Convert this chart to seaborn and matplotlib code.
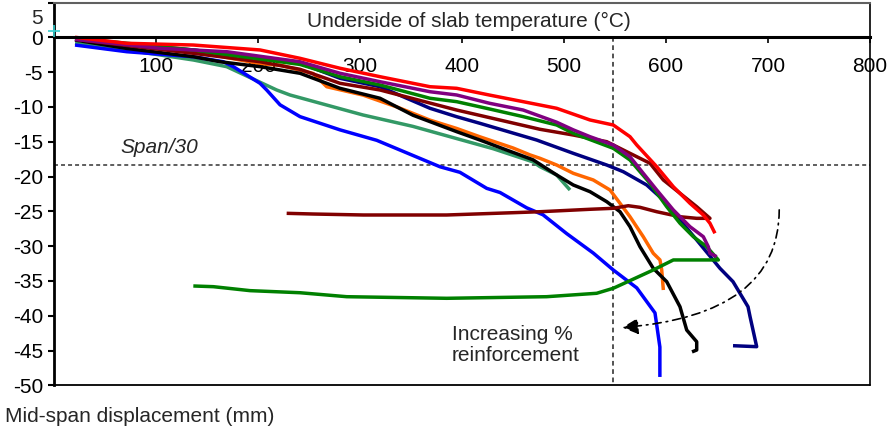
import matplotlib
matplotlib.use("Agg")
import matplotlib.pyplot as plt
from matplotlib.path import Path
from matplotlib.patches import FancyArrowPatch
import pandas as pd
import seaborn as sns

# Mid-span displacement (mm) against underside-of-slab temperature (°C)
red_t = [20.6, 71.3, 136.6, 202, 241.2, 280.4, 319.6, 368.6, 394.8, 427, 460, 492.8,
         525.5, 548.3, 564.7, 571.3, 590.9, 607.2, 623.5, 636.6, 643.1, 648]
red_d = [0.0, -0.86, -1.11, -1.82, -3.02, -4.45, -5.66, -7.10, -7.33, -8.3, -9.25, -10.2,
         -11.88, -12.6, -14.28, -15.47, -18.59, -21.47, -23.85, -25.53, -26.72, -28.16]

purple_t = [20.6, 103.9, 169.3, 241.2, 280.4, 319.6, 368.6, 394.8, 427, 460, 492.8, 509.1,
            525.5, 548.3, 564.7, 577.7, 590.9, 607.2, 623.5, 636.6, 641.5, 643.1, 649.7]
purple_d = [-0.29, -1.58, -2.07, -3.51, -5.17, -6.38, -7.82, -8.29, -9.48, -10.45, -12.2, -13.3,
            -14.28, -15.47, -17.16, -19.54, -21.94, -24.81, -27.21, -28.65, -30.09, -31.03, -31.52]

green_t = [20.6, 71.3, 136.6, 241.2, 280.4, 319.6, 368.6, 394.8, 427, 460, 492.8, 509.1,
           548.3, 564.7, 584.3, 600.7, 613.7, 626.8, 639.9, 651.3,
           607.2, 587.5, 548.3, 532, 483, 385, 287, 241.2, 192.2, 156.2, 136.6]
green_d = [-0.14, -0.86, -1.82, -3.9, -5.66, -6.85, -8.76, -9.25, -10.3, -11.4, -12.6, -13.79,
           -15.95, -17.63, -20.98, -24.34, -26.72, -28.65, -30.09, -31.99,
           -31.99, -33.43, -36.06, -36.78, -37.27, -37.5, -37.27, -36.7, -36.4, -35.83, -35.73]

maroon_t = [20.6, 136.6, 202, 241.2, 280.4, 319.6, 394.8, 476.5, 509.1, 541.9, 564.7, 584.3,
            597.4, 613.7, 630.1, 643.1,
            630.1, 613.7, 590.9, 574.5, 563, 548.3, 525.5, 476.5, 450.3, 385, 303.2, 254.2, 228.1]
maroon_d = [-0.3, -2.3, -3.51, -4.6, -6.61, -7.57, -10.45, -13.22, -14.04, -15.0, -16.67, -18.1,
            -20.5, -22.41, -24.34, -26.01,
            -26.01, -25.78, -25.06, -24.43, -24.2, -24.57, -24.71, -25.06, -25.2, -25.53, -25.53,
            -25.39, -25.29]

navy_t = [20.6, 136.6, 241.2, 280.4, 319.6, 368.6, 394.8, 417.6, 473.2, 509.1, 541.9, 558.1,
          581.1, 597.4, 613.7, 630.1, 652.9, 665.7, 680.4, 682.4, 685.3, 688.9, 665.7]
navy_d = [-0.3, -1.82, -3.7, -5.89, -7.10, -10.2, -11.41, -12.36, -14.76, -16.67, -18.35, -19.31,
          -21.22, -23.38, -26.25, -29.12, -33.19, -35.11, -38.71, -40.14, -42.06, -44.45, -44.31]

black_t = [20.6, 71.3, 136.6, 162.7, 202, 241.2, 280.4, 319.6, 352, 394.8, 417.6, 443.8, 469.6,
           492.8, 509.1, 525.5, 541.9, 554.9, 564.7, 574.5, 587.5, 600.7, 613.7, 620.3, 630.1,
           630.1, 625.5]
black_d = [-0.39, -1.6, -2.79, -3.51, -4.22, -5.17, -7.33, -8.76, -11.2, -13.56, -14.76, -16.2,
           -17.6, -19.78, -21.22, -22.18, -23.62, -25.06, -27.21, -30.09, -33.19, -35.11, -38.71,
           -42.06, -43.74, -44.93, -45.2]

orange_t = [20.6, 136.6, 202, 221.6, 254, 267.4, 302.9, 336, 368.6, 394.8, 417.6, 450, 466.7,
            476.5, 492.8, 509.1, 528.7, 545.1, 554.9, 564.7, 577.7, 587.5, 594.1, 595.8, 597.4]
orange_d = [-0.3, -2.0, -3.8, -4.0, -5.2, -7.1, -8.3, -10.0, -11.9, -13.1, -14.3, -15.9, -16.9,
            -17.39, -18.35, -19.54, -20.5, -21.94, -23.85, -25.78, -28.65, -31.03, -31.99, -33.43,
            -36.31]

teal_t = [20.6, 71.3, 136.6, 169.3, 218.3, 231.4, 302.9, 351.9, 400.9, 430.4, 469.6, 476.5,
          492.8, 505.9]
teal_d = [-0.86, -1.82, -3.26, -4.22, -7.57, -8.29, -11.16, -12.8, -14.8, -16.0, -17.9, -18.59,
          -19.78, -21.94]

blue_t = [20.6, 71.3, 136.6, 166, 175.8, 202, 208.5, 221.6, 241.2, 280.4, 316.4, 378.4, 398,
          424.2, 437.3, 463.4, 479.4, 502.6, 528.7, 548.3, 571.3, 589.2, 594, 594]
blue_d = [-1.11, -2.07, -2.79, -3.51, -4.22, -6.61, -7.57, -9.7, -11.4, -13.3, -14.8, -18.6, -19.4,
          -21.7, -22.3, -24.5, -25.5, -28.2, -31.0, -33.43, -36.0, -39.6, -44.5, -48.8]

series = {
    "teal": (teal_t, teal_d),
    "blue": (blue_t, blue_d),
    "orange": (orange_t, orange_d),
    "black": (black_t, black_d),
    "navy": (navy_t, navy_d),
    "maroon": (maroon_t, maroon_d),
    "green": (green_t, green_d),
    "purple": (purple_t, purple_d),
    "red": (red_t, red_d),
}
palette = {
    "teal": "#339966", "blue": "#0000ff", "orange": "#ff6600", "black": "#000000",
    "navy": "#000080", "maroon": "#800000", "green": "#008000", "purple": "#800080",
    "red": "#ff0000",
}

x_ticks = [100, 200, 300, 400, 500, 600, 700, 800]
y_ticks = [5, 0, -5, -10, -15, -20, -25, -30, -35, -40, -45, -50]
span_limit = -18.3
temp_marker = 548

rows = []
for name, (t, d) in series.items():
    for step, (a, b) in enumerate(zip(t, d)):
        rows.append((name, step, a, b))
df = pd.DataFrame(rows, columns=["series", "step", "temperature", "displacement"])

sns.set_theme(style="white")
plt.rcParams["font.family"] = ["Liberation Sans", "DejaVu Sans"]
FS = 15

fig = plt.figure(figsize=(8.91, 4.30), dpi=100)
ax = fig.add_axes([54 / 891, 1 - 385.3 / 430, 816 / 891, (385.3 - 2.5) / 430])

sns.lineplot(data=df, x="temperature", y="displacement", hue="series",
             hue_order=list(series.keys()), palette=palette, sort=False,
             estimator=None, legend=False, linewidth=2.5, ax=ax)
for line in ax.get_lines():
    line.set_linewidth(2.5)
    line.set_solid_joinstyle("round")
    line.set_solid_capstyle("butt")

ax.set_xlim(0, 800)
ax.set_ylim(-50, 5)
ax.set_xlabel("")
ax.set_ylabel("")
ax.set_xticks(x_ticks)
ax.set_yticks(y_ticks)
ax.set_yticklabels(["" if v == 5 else str(v) for v in y_ticks])

# x axis runs along the zero-displacement line
ax.spines["bottom"].set_position(("data", 0))
ax.spines["bottom"].set_linewidth(2.2)
ax.spines["bottom"].set_color("black")
ax.spines["left"].set_linewidth(2.0)
ax.spines["left"].set_color("black")
ax.spines["right"].set_linewidth(1.2)
ax.spines["right"].set_color("black")
ax.spines["top"].set_linewidth(1.5)
ax.spines["top"].set_color("#606060")
ax.plot([0, 800], [-50, -50], color="black", lw=1.3, clip_on=False, zorder=5)

ax.tick_params(axis="x", bottom=True, direction="out", length=4, width=1.2,
               pad=10, labelsize=FS, colors="black")
ax.tick_params(axis="y", left=True, direction="out", length=4, width=1.5,
               pad=4, labelsize=FS, colors="black")
for lab in ax.get_yticklabels():
    lab.set_verticalalignment("center_baseline")
ax.annotate("5", xy=(0, 5), xycoords=("axes fraction", "data"), xytext=(-8.3, -10),
            textcoords="offset points", ha="right", va="center_baseline", fontsize=FS)

# reference lines
ax.axhline(span_limit, color="#333333", lw=1.1, ls=(0, (2.6, 2)), zorder=1)
ax.plot([temp_marker, temp_marker], [0, -50], color="#444444", lw=1.3,
        ls=(0, (2.6, 2)), zorder=1)

ax.plot([0], [0.9], marker="+", color="#33cccc", ms=8, mew=1.2, clip_on=False, zorder=6)

ax.text(407, 2.3, "Underside of slab temperature (°C)", ha="center", va="center",
        fontsize=FS)
ax.text(103, -15.8, "Span/30", style="italic", ha="center", va="center", fontsize=FS)
ax.text(390, -44.25, "Increasing %\nreinforcement", ha="left", va="center",
        fontsize=FS, linespacing=1.15)
fig.text(5 / 891, 1 - 416.7 / 430, "Mid-span displacement (mm)", ha="left",
         va="center", fontsize=FS)

# curved dash-dot arrow
trend = Path([(711, -24.8), (711, -39.9), (557, -41.7)],
             [Path.MOVETO, Path.CURVE3, Path.CURVE3])
arrow = FancyArrowPatch(path=trend, arrowstyle="-|>,head_length=0.7,head_width=0.35",
                        mutation_scale=14, lw=1.2, color="black",
                        linestyle=(0, (5, 3, 1, 3)), transform=ax.transData, zorder=4)
ax.add_patch(arrow)

fig.savefig("out.png", dpi=100, facecolor="white")
